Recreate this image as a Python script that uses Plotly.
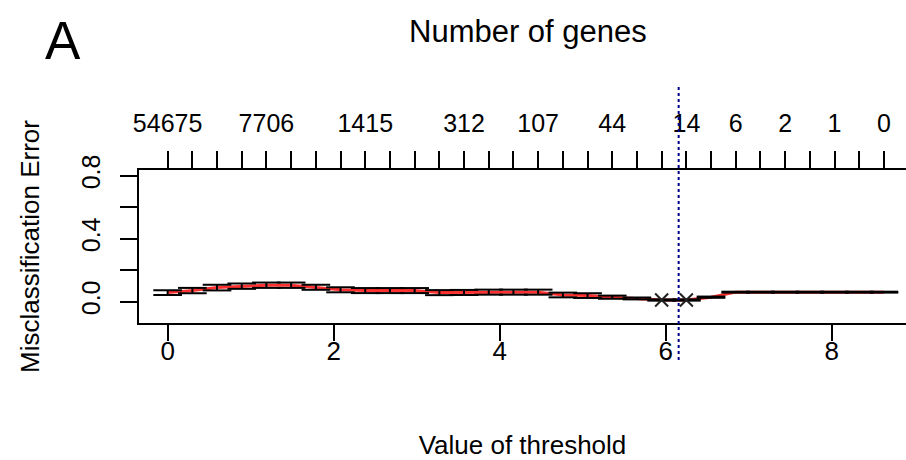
import plotly.graph_objects as go

# ---------------- data ----------------
thresholds = [0.000, 0.298, 0.595, 0.893, 1.190, 1.488, 1.786, 2.083, 2.381, 2.678,
              2.976, 3.274, 3.571, 3.869, 4.166, 4.464, 4.762, 5.059, 5.357, 5.654,
              5.952, 6.250, 6.547, 6.845, 7.142, 7.440, 7.738, 8.035, 8.333, 8.630]
err = [0.057, 0.070, 0.089, 0.098, 0.104, 0.104, 0.091, 0.075, 0.070, 0.070,
       0.070, 0.057, 0.058, 0.060, 0.060, 0.060, 0.042, 0.038, 0.028, 0.020,
       0.010, 0.010, 0.028, 0.060, 0.060, 0.060, 0.060, 0.060, 0.060, 0.060]
se = [0.015, 0.017, 0.018, 0.017, 0.017, 0.017, 0.016, 0.016, 0.016, 0.016,
      0.016, 0.016, 0.016, 0.016, 0.016, 0.016, 0.015, 0.015, 0.010, 0.006,
      0.004, 0.004, 0.004, 0.003, 0.003, 0.003, 0.003, 0.003, 0.003, 0.003]
gene_labels = ["54675", "", "", "", "7706", "", "", "", "1415", "",
               "", "", "312", "", "", "107", "", "", "44", "",
               "", "14", "", "6", "", "2", "", "1", "", "0"]
cutoff = 6.157
x_ticks = [0, 2, 4, 6, 8]
y_ticks = [0.0, 0.2, 0.4, 0.6, 0.8]
y_tick_text = ["0.0", "", "0.4", "", "0.8"]

FONT = "Liberation Sans, Arial, sans-serif"

# error bars (pamr style: caps of width 2% of threshold range)
barw = 0.02 * (max(thresholds) - min(thresholds))
ex, ey = [], []
for t, e, s in zip(thresholds, err, se):
    lo, hi = e - s, e + s
    ex += [t, t, None, t - barw, t + barw, None, t - barw, t + barw, None]
    ey += [lo, hi, None, hi, hi, None, lo, lo, None]

minv = min(err)
min_x = [t for t, e in zip(thresholds, err) if e == minv]
min_y = [e for e in err if e == minv]

fig = go.Figure()
fig.add_trace(go.Scatter(x=thresholds, y=err, mode="lines",
                         line=dict(color="#ff3030", width=3), hoverinfo="skip"))
fig.add_trace(go.Scatter(x=ex, y=ey, mode="lines",
                         line=dict(color="black", width=2), hoverinfo="skip"))
fig.add_trace(go.Scatter(x=min_x, y=min_y, mode="markers",
                         marker=dict(symbol="x-thin", size=13,
                                     line=dict(width=2, color="#222222"))))
fig.add_trace(go.Scatter(x=thresholds, y=err, xaxis="x2", mode="markers",
                         marker=dict(opacity=0), hoverinfo="skip"))

xr = [-0.345, 8.896]
fig.update_layout(
    width=906, height=460,
    margin=dict(l=139, r=0, t=170, b=129, pad=0),
    paper_bgcolor="white", plot_bgcolor="white",
    showlegend=False,
    font=dict(family=FONT, color="black", size=26),
    xaxis=dict(range=xr, tickvals=x_ticks, ticks="outside", ticklen=16, tickwidth=2,
               tickcolor="black", showline=True, linewidth=2, linecolor="black",
               showgrid=False, zeroline=False, tickfont=dict(size=26),
               ticklabelstandoff=-12,
               title=dict(text="Value of threshold", font=dict(size=26), standoff=76)),
    xaxis2=dict(range=xr, overlaying="x", side="top", tickvals=thresholds,
                ticktext=gene_labels, ticks="outside", ticklen=17, tickwidth=2,
                tickcolor="black", showline=True, linewidth=2, linecolor="black",
                showgrid=False, zeroline=False, tickfont=dict(size=25),
                ticklabelstandoff=9, tickangle=0),
    yaxis=dict(range=[-0.136, 0.836], tickvals=y_ticks, ticktext=y_tick_text,
               tickangle=-90, ticks="outside", ticklen=17, tickwidth=2,
               tickcolor="black", showline=True, linewidth=2, linecolor="black",
               showgrid=False, zeroline=False, tickfont=dict(size=25),
               ticklabelstandoff=10,
               title=dict(text="Misclassification Error", font=dict(size=26), standoff=30)),
    shapes=[dict(type="line", xref="x", yref="paper", x0=cutoff, x1=cutoff,
                 y0=-0.242, y1=1.547, line=dict(color="#00008b", width=2, dash="dot"))],
    annotations=[
        dict(text="Number of genes", xref="paper", yref="paper", x=0.507, y=1.907,
             xanchor="center", yanchor="middle", showarrow=False, font=dict(size=31)),
        dict(text="A", xref="paper", yref="paper", x=-0.099, y=2.05,
             xanchor="center", yanchor="top", showarrow=False, font=dict(size=53)),
    ],
)

fig.write_html("out.html", config={"displayModeBar": False},
               post_script="document.body.style.margin='0px';")
